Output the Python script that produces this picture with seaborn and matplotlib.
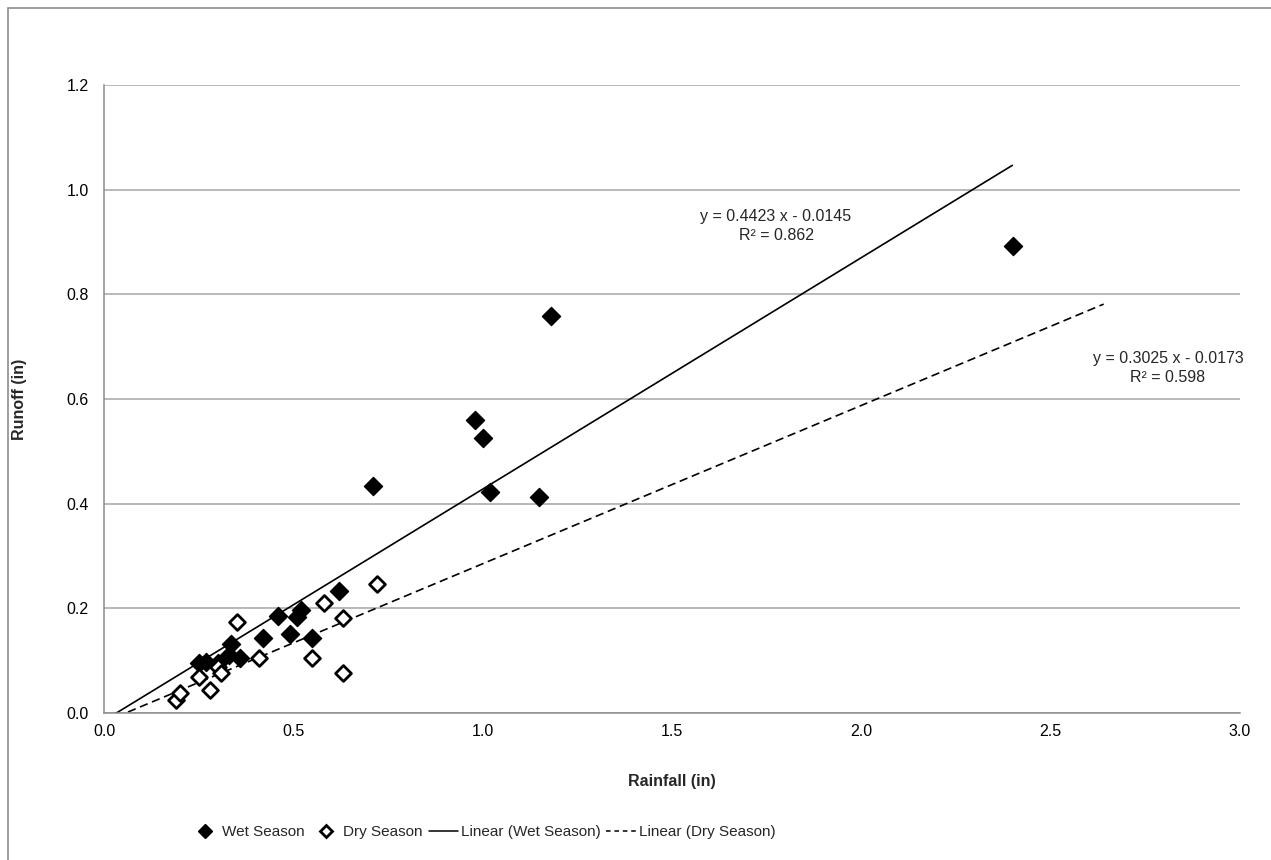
import matplotlib
matplotlib.use("Agg")
import numpy as np
import pandas as pd
import matplotlib.pyplot as plt
import seaborn as sns
from matplotlib.lines import Line2D
from matplotlib.patches import Rectangle

# rainfall / runoff events (in)
wet_rain   = [0.25, 0.27, 0.30, 0.33, 0.335, 0.36, 0.42, 0.46, 0.49, 0.51,
              0.52, 0.55, 0.62, 0.71, 0.98, 1.00, 1.02, 1.15, 1.18, 2.40]
wet_runoff = [0.095, 0.098, 0.096, 0.111, 0.132, 0.106, 0.143, 0.185, 0.151, 0.183,
              0.197, 0.143, 0.234, 0.434, 0.560, 0.526, 0.423, 0.413, 0.759, 0.893]

dry_rain   = [0.19, 0.20, 0.25, 0.28, 0.30, 0.31, 0.35, 0.41, 0.55, 0.58, 0.63, 0.63, 0.72]
dry_runoff = [0.025, 0.038, 0.069, 0.044, 0.088, 0.076, 0.173, 0.106, 0.106, 0.210,
              0.181, 0.076, 0.246]

# trendlines as printed on the chart
seasons    = ["Wet Season", "Dry Season"]
slopes     = [0.4423, 0.3025]
intercepts = [-0.0145, -0.0173]
r_squared  = [0.862, 0.598]
line_end   = [2.40, 2.64]

wet = pd.DataFrame({"rain": wet_rain, "runoff": wet_runoff})
dry = pd.DataFrame({"rain": dry_rain, "runoff": dry_runoff})

sns.set_style("white")
plt.rcParams["font.family"] = ["Liberation Sans", "DejaVu Sans"]
FS = 11.5

fig = plt.figure(figsize=(12.71, 8.60), dpi=100)
ax = fig.add_axes([104 / 1271, 1 - 713 / 860, (1240 - 104) / 1271, (713 - 85) / 860])

grey = "#8c8c8c"
ax.set_xlim(0, 3.0)
ax.set_ylim(0, 1.2)
ax.set_xticks(np.arange(0, 3.01, 0.5))
ax.set_yticks(np.arange(0, 1.21, 0.2))
ax.xaxis.set_major_formatter(matplotlib.ticker.FormatStrFormatter("%.1f"))
ax.yaxis.set_major_formatter(matplotlib.ticker.FormatStrFormatter("%.1f"))
ax.grid(axis="y", color="#a6a6a6", linewidth=1.1)
ax.set_axisbelow(True)
for s in ["top", "right"]:
    ax.spines[s].set_visible(False)
for s in ["left", "bottom"]:
    ax.spines[s].set_color(grey)
    ax.spines[s].set_linewidth(1.1)
ax.tick_params(axis="both", direction="out", length=5, width=1, color=grey,
               labelsize=FS, labelcolor="black")
ax.tick_params(axis="x", pad=3)
ax.tick_params(axis="y", pad=6)

# trendlines
styles = [(0, ()), (0, (5, 2.8))]
for i in range(2):
    xs = np.array([0.0, line_end[i]])
    sns.lineplot(x=xs, y=slopes[i] * xs + intercepts[i], ax=ax, color="black",
                 linewidth=1.2, linestyle=styles[i])

sns.scatterplot(data=wet, x="rain", y="runoff", ax=ax, marker="D", s=85,
                color="black", edgecolor="black", linewidth=1.0, zorder=3)
sns.scatterplot(data=dry, x="rain", y="runoff", ax=ax, marker="D", s=65,
                facecolor="white", edgecolor="black", linewidth=2.0, zorder=3)

ax.set_xlabel("Rainfall (in)", fontsize=FS, fontweight="bold", labelpad=25)
ax.set_ylabel("Runoff (in)", fontsize=FS, fontweight="bold", labelpad=28)

# equation labels
eq_pos = [(776 / 1271, 1 - 226 / 860), (1168 / 1271, 1 - 368 / 860)]
for i in range(2):
    fig.text(eq_pos[i][0], eq_pos[i][1],
             f"y = {slopes[i]:.4f} x - {abs(intercepts[i]):.4f}\nR² = {r_squared[i]:.3f}",
             ha="center", va="center", fontsize=FS, linespacing=1.3)

handles = [
    Line2D([], [], marker="D", linestyle="none", markersize=7, color="black"),
    Line2D([], [], marker="D", linestyle="none", markersize=6, markerfacecolor="white",
           markeredgecolor="black", markeredgewidth=2),
    Line2D([], [], color="black", linewidth=1.1),
    Line2D([], [], color="black", linewidth=1.1, linestyle=(0, (3, 2.5))),
]
labels = seasons + [f"Linear ({s})" for s in seasons]
fig.legend(handles, labels, loc="center left", bbox_to_anchor=(190 / 1271, 1 - 832 / 860),
           ncol=4, frameon=False, fontsize=11, handlelength=1.95, handletextpad=0.15,
           columnspacing=0.4, borderpad=0, borderaxespad=0)

fig.add_artist(Rectangle((8 / 1271, -0.05), 1.2, 1 - 8 / 860 + 0.05,
                         transform=fig.transFigure, fill=False,
                         edgecolor=grey, linewidth=1.2))

fig.savefig("out.png", dpi=100)
